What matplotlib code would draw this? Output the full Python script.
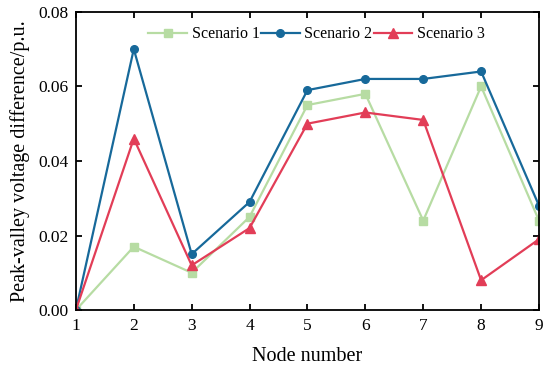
import matplotlib
matplotlib.use("Agg")
import matplotlib.pyplot as plt

nodes = [1, 2, 3, 4, 5, 6, 7, 8, 9]
scenario1 = [0.0, 0.017, 0.010, 0.025, 0.055, 0.058, 0.024, 0.060, 0.024]
scenario2 = [0.0, 0.070, 0.015, 0.029, 0.059, 0.062, 0.062, 0.064, 0.028]
scenario3 = [0.0, 0.046, 0.012, 0.022, 0.050, 0.053, 0.051, 0.008, 0.019]
yticks = [0.00, 0.02, 0.04, 0.06, 0.08]

plt.rcParams['font.family'] = ['Liberation Serif', 'DejaVu Serif']
fig = plt.figure(figsize=(5.5, 3.7), dpi=100)
ax = fig.add_axes([0.138, 0.162, 0.842, 0.806])

ax.plot(nodes, scenario1, color='#b7dca3', marker='s', markersize=5.5, lw=1.6, label='Scenario 1')
ax.plot(nodes, scenario2, color='#17699a', marker='o', markersize=5.5, lw=1.6, label='Scenario 2')
ax.plot(nodes, scenario3, color='#e23d57', marker='^', markersize=6.5, lw=1.6, label='Scenario 3')

ax.set_xlim(1, 9)
ax.set_ylim(0, 0.08)
ax.set_xticks(nodes)
ax.set_yticks(yticks)
ax.set_yticklabels([f"{v:.2f}" for v in yticks])
ax.tick_params(direction='in', top=True, right=True, labelsize=12.5, width=1.3, length=4)
ax.tick_params(axis='x', pad=6)
ax.tick_params(axis='y', pad=5)
for s in ax.spines.values():
    s.set_linewidth(1.3)
ax.set_xlabel('Node number', fontsize=14.5, labelpad=9)
ax.set_ylabel('Peak-valley voltage difference/p.u.', fontsize=14.5, labelpad=6)
ax.legend(loc='upper center', ncol=3, frameon=False, fontsize=11.5, handlelength=2.4,
          columnspacing=0.1, handletextpad=0.3, bbox_to_anchor=(0.52, 1.0))

fig.savefig('out.png', dpi=100)
